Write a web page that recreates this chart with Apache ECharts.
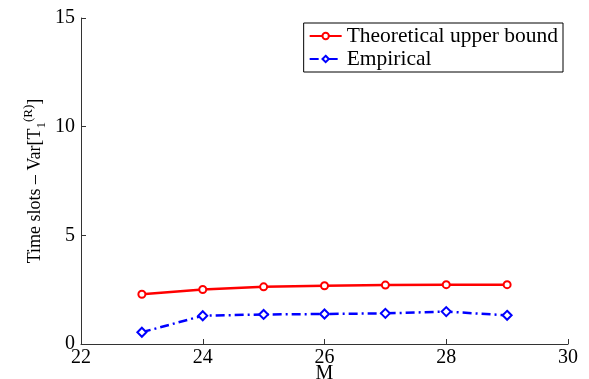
<!DOCTYPE html>
<html>
<head>
<meta charset="utf-8">
<script src="https://cdn.jsdelivr.net/npm/echarts@6/dist/echarts.min.js"></script>
<style>html,body{margin:0;padding:0;background:#fff;}#c{width:589px;height:379px;}</style>
</head>
<body>
<div id="c"></div>
<script>
const xValues = [23, 24, 25, 26, 27, 28, 29];
const theoretical = [2.29, 2.51, 2.63, 2.68, 2.71, 2.73, 2.73];
const empirical = [0.54, 1.30, 1.36, 1.38, 1.41, 1.49, 1.32];
const seriesNames = ['Theoretical upper bound', 'Empirical'];
const xTicks = [22, 24, 26, 28, 30];
const yTicks = [0, 5, 10, 15];

const FONT = '"Liberation Serif", "Times New Roman", serif';
const chart = echarts.init(document.getElementById('c'), null, {renderer: 'canvas'});
const toPairs = (xs, ys) => xs.map((x, i) => [x, ys[i]]);

chart.setOption({
  animation: false,
  backgroundColor: '#fff',
  grid: {left: 81, right: 21, top: 18, bottom: 35, containLabel: false, outerBoundsMode: 'none'},
  legend: {
    orient: 'vertical',
    right: 26, top: 23,
    padding: [2, 5, 2, 5],
    itemGap: 1,
    itemWidth: 32, itemHeight: 8,
    borderColor: '#000', borderWidth: 1,
    backgroundColor: '#fff',
    align: 'left',
    textStyle: {fontFamily: FONT, fontSize: 21.5, color: '#000', padding: [0, 0, 0, 0]},
    data: seriesNames
  },
  xAxis: {
    type: 'value', min: xTicks[0], max: xTicks[xTicks.length - 1], interval: 2,
    name: 'M', nameLocation: 'middle', nameGap: 20, nameMoveOverlap: false,
    nameTextStyle: {fontFamily: FONT, fontSize: 20, color: '#000'},
    axisLine: {lineStyle: {color: '#333', width: 1}},
    axisTick: {inside: true, length: 5, lineStyle: {color: '#333'}},
    axisLabel: {fontFamily: FONT, fontSize: 20, color: '#000', margin: 4},
    splitLine: {show: false}
  },
  yAxis: {
    type: 'value', min: yTicks[0], max: yTicks[yTicks.length - 1], interval: 5,
    name: '{n|Time slots – Var[T}{sub|1}{sup|(R)}{n|]}',
    nameLocation: 'middle', nameGap: 33, nameRotate: 90, nameMoveOverlap: false,
    nameTextStyle: {
      fontFamily: FONT, fontSize: 18, color: '#000',
      rich: {
        n: {fontFamily: FONT, fontSize: 18, color: '#000'},
        sub: {fontFamily: FONT, fontSize: 13, color: '#000', verticalAlign: 'bottom', padding: [13, 0, 0, 0]},
        sup: {fontFamily: FONT, fontSize: 13, color: '#000', verticalAlign: 'top', padding: [0, 0, 13, 0]}
      }
    },
    axisLine: {show: true, lineStyle: {color: '#333', width: 1}},
    axisTick: {show: true, inside: true, length: 5, lineStyle: {color: '#333'}},
    axisLabel: {fontFamily: FONT, fontSize: 20, color: '#000', margin: 6},
    splitLine: {show: false}
  },
  series: [
    {
      name: seriesNames[0], type: 'line', data: toPairs(xValues, theoretical),
      symbol: 'emptyCircle', symbolSize: 7,
      lineStyle: {color: '#ff0000', width: 2.5},
      itemStyle: {color: '#ff0000', borderColor: '#ff0000', borderWidth: 2}
    },
    {
      name: seriesNames[1], type: 'line', data: toPairs(xValues, empirical),
      symbol: 'emptyDiamond', symbolSize: 9,
      lineStyle: {color: '#0000ff', width: 2.5, type: [9, 4, 2, 4]},
      itemStyle: {color: '#0000ff', borderColor: '#0000ff', borderWidth: 2}
    }
  ]
});
</script>
</body>
</html>
